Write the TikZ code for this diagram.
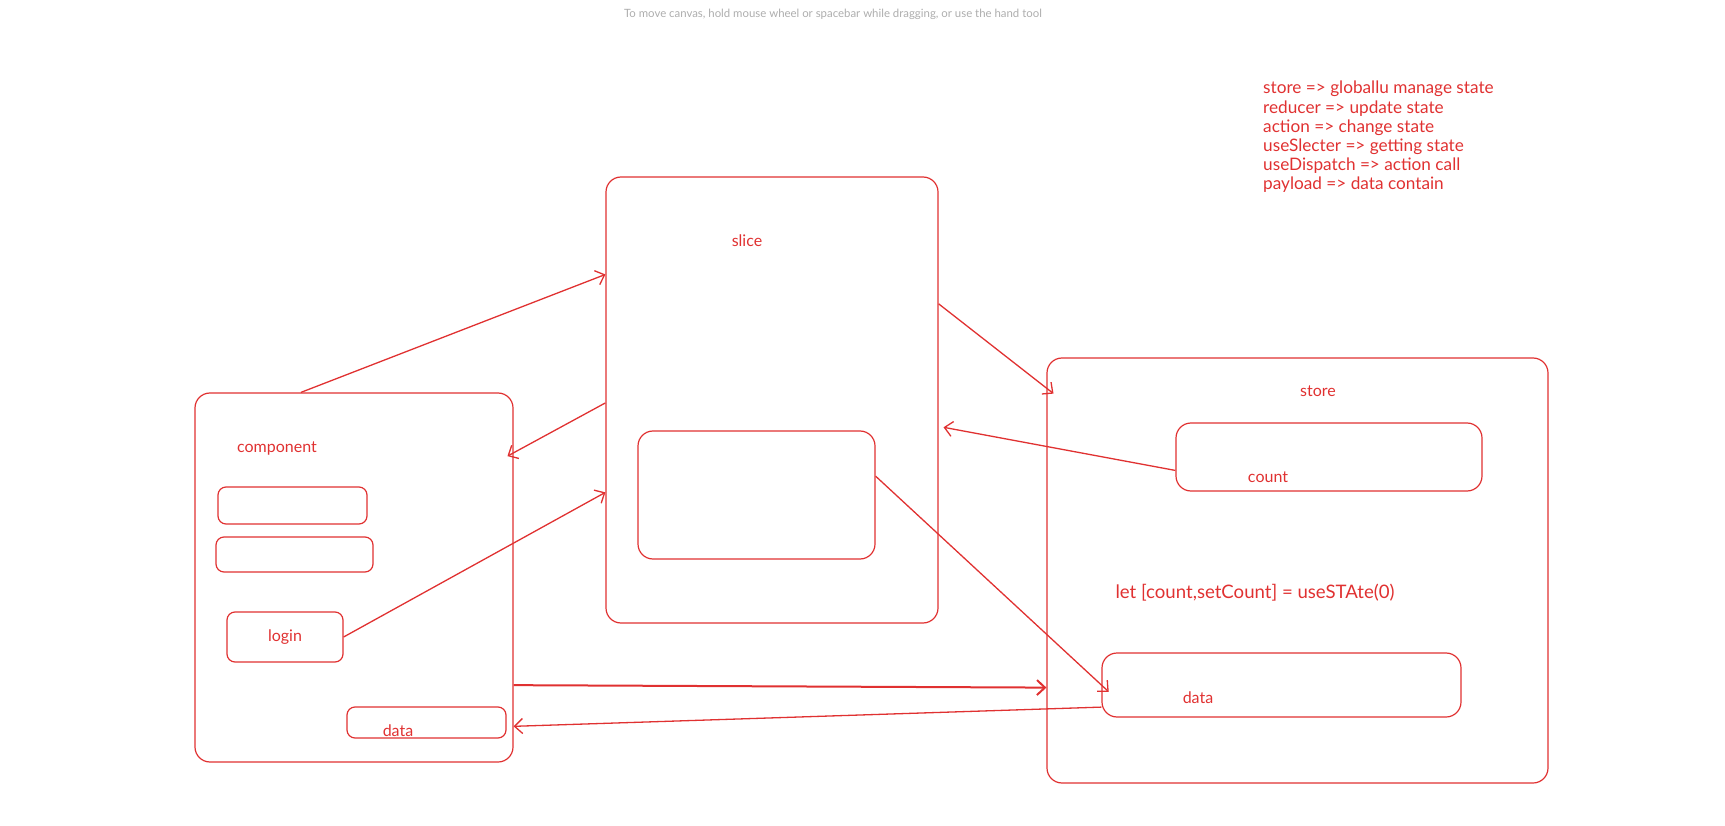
\documentclass[tikz,border=0pt]{standalone}
\usepackage{fontspec}
\setmainfont{Lato}
\usetikzlibrary{arrows.meta}
\definecolor{sketchred}{HTML}{E03131}
\definecolor{hintgray}{HTML}{ADADAD}
\tikzstyle{box} = [rectangle, rounded corners=15pt, inner sep=0pt, draw=sketchred, line width=1.2pt]
\tikzstyle{smallbox} = [rectangle, rounded corners=8pt, inner sep=0pt, draw=sketchred, line width=1.2pt]
\tikzstyle{sketchtext} = [inner sep=0pt, text=sketchred, font=\fontsize{16}{19.2}\selectfont]
\tikzstyle{hint} = [inner sep=0pt, text=hintgray, font=\fontsize{11.4}{13}\selectfont]
\tikzstyle{arrow} = [draw=sketchred, line width=1.3pt, -{Straight Barb[length=8pt,width=15pt]}]

\begin{document}
\begin{tikzpicture}[x=1pt, y=-1pt]
    \useasboundingbox (0,0) rectangle (1725,826);
    \node (Hint) [hint] at (833,14) {To move canvas, hold mouse wheel or spacebar while dragging, or use the hand tool};
    \node (Notes) [sketchtext, font=\fontsize{17.2}{19.2}\selectfont, align=left, anchor=west] at (1263,137) {store => globallu manage state\\reducer => update state\\action => change state\\useSlecter => getting state\\useDispatch => action call\\payload => data contain};

    % component side
    \node (Comp) [box, minimum width=318pt, minimum height=369pt] at (354,577.5) {};
    \node (CompLabel) [sketchtext] at (277,449) {component};
    \node (CompInputA) [smallbox, minimum width=149pt, minimum height=37pt] at (292.5,505.5) {};
    \node (CompInputB) [smallbox, minimum width=157pt, minimum height=35pt] at (294.5,554.5) {};
    \node (CompLogin) [smallbox, minimum width=116pt, minimum height=50pt] at (285,637) {};
    \node (CompLoginLabel) [sketchtext] at (285,637) {login};
    \node (CompData) [smallbox, minimum width=159pt, minimum height=31pt] at (426.5,722.5) {};
    \node (CompDataLabel) [sketchtext] at (398,731) {data};

    % slice
    \node (Slice) [box, minimum width=332pt, minimum height=446pt] at (772,400) {};
    \node (SliceLabel) [sketchtext] at (747,241) {slice};
    \node (SliceInner) [box, minimum width=237pt, minimum height=128pt] at (756.5,495) {};

    % store
    \node (Store) [box, minimum width=501pt, minimum height=425pt] at (1297.5,570.5) {};
    \node (StoreLabel) [sketchtext] at (1318,391) {store};
    \node (StoreCount) [box, minimum width=306pt, minimum height=68pt] at (1329,457) {};
    \node (StoreCountLabel) [sketchtext] at (1268,477) {count};
    \node (StoreCode) [sketchtext, font=\fontsize{18.6}{22}\selectfont] at (1255,593) {let [count,setCount] = useSTAte(0)};
    \node (StoreData) [box, minimum width=359pt, minimum height=64pt] at (1281.5,685) {};
    \node (StoreDataLabel) [sketchtext] at (1198,698) {data};

    \draw [arrow] (Comp.106) -- (Slice.143.5);
    \draw [arrow, shorten >=-7pt] (Slice.181) -- (Comp.38.9);
    \draw [arrow] (CompLogin.east) -- (Slice.209);
    \draw [arrow, shorten >=-9pt] (Slice.30.6) -- (Store.144.3);
    \draw [arrow, shorten >=5pt] (StoreCount.185) -- (Slice.-9.6);
    \draw [arrow, shorten >=-10pt] (SliceInner.9) -- (StoreData.west);
    \draw [arrow, line width=2pt] (Comp.-34.6) -- (Store.205.3);
    \draw [arrow] (StoreData.187.3) -- (Comp.-43);
\end{tikzpicture}
\end{document}
